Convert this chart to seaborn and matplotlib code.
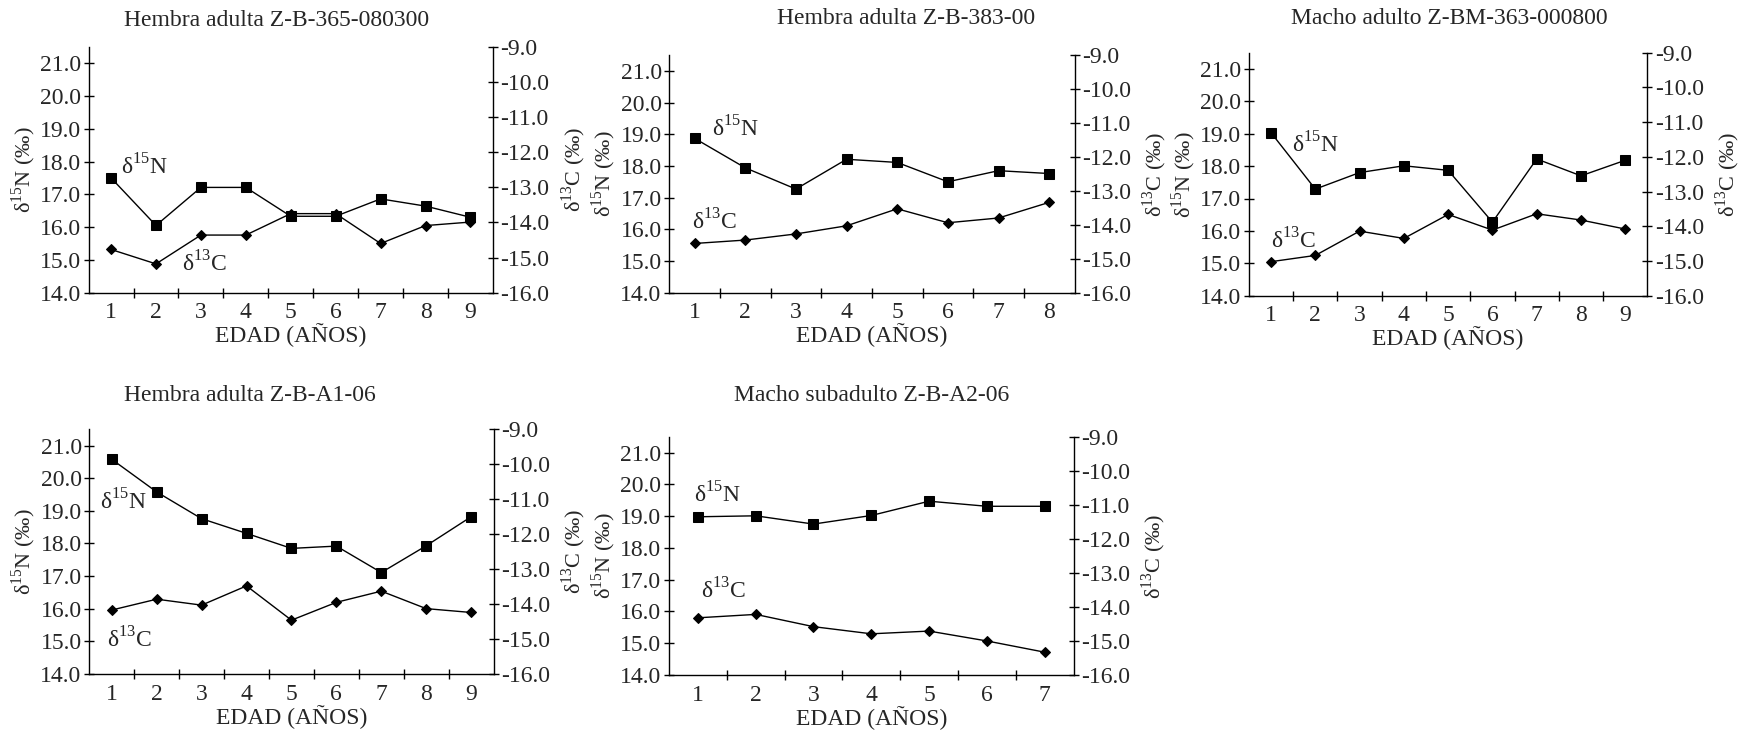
import matplotlib
matplotlib.use("Agg")
import matplotlib.pyplot as plt
from matplotlib.ticker import FixedLocator, FormatStrFormatter, NullFormatter
import seaborn as sns

sns.set_style("white")
plt.rcParams['font.family'] = ['Liberation Serif', 'DejaVu Serif']
plt.rcParams['mathtext.fontset'] = 'custom'
plt.rcParams['mathtext.rm'] = 'Liberation Serif'
plt.rcParams['axes.unicode_minus'] = False

# ---------------- data ----------------
titles = ["Hembra adulta Z-B-365-080300", "Hembra adulta Z-B-383-00",
          "Macho adulto Z-BM-363-000800", "Hembra adulta Z-B-A1-06",
          "Macho subadulto Z-B-A2-06"]

ages_1 = [1, 2, 3, 4, 5, 6, 7, 8, 9]
n15_1 = [17.50, 16.05, 17.21, 17.21, 16.33, 16.33, 16.86, 16.64, 16.30]
c13_1 = [-14.77, -15.18, -14.36, -14.36, -13.75, -13.75, -14.60, -14.09, -13.99]

ages_2 = [1, 2, 3, 4, 5, 6, 7, 8]
n15_2 = [18.87, 17.94, 17.27, 18.21, 18.11, 17.50, 17.85, 17.76]
c13_2 = [-14.55, -14.45, -14.27, -14.03, -13.53, -13.94, -13.80, -13.34]

ages_3 = [1, 2, 3, 4, 5, 6, 7, 8, 9]
n15_3 = [19.03, 17.29, 17.80, 18.01, 17.87, 16.27, 18.22, 17.70, 18.18]
c13_3 = [-15.02, -14.84, -14.14, -14.35, -13.66, -14.11, -13.64, -13.82, -14.08]

ages_4 = [1, 2, 3, 4, 5, 6, 7, 8, 9]
n15_4 = [20.58, 19.58, 18.76, 18.31, 17.85, 17.92, 17.11, 17.93, 18.82]
c13_4 = [-14.17, -13.86, -14.03, -13.48, -14.46, -13.95, -13.63, -14.13, -14.24]

ages_5 = [1, 2, 3, 4, 5, 6, 7]
n15_5 = [18.98, 19.01, 18.75, 19.02, 19.47, 19.31, 19.31]
c13_5 = [-14.32, -14.22, -14.58, -14.79, -14.71, -15.00, -15.33]

n_ticks = [14, 15, 16, 17, 18, 19, 20, 21]
c_ticks = [-16, -15, -14, -13, -12, -11, -10, -9]

# ---------------- layout (pixels) ----------------
W, H = 1758, 733
# left, top, right, bottom of plotting area
boxes = [(88.6, 46.7, 492.9, 292.7), (669.3, 55.0, 1074.5, 292.7),
         (1248.9, 52.7, 1647.4, 295.7), (89.3, 429.3, 493.6, 674.0),
         (669.0, 436.7, 1073.6, 675.0)]
title_pos = [(277, 20), (906, 18), (1449, 18), (250, 395), (872, 395)]
# annotation positions (x in category units, y in delta15N units)
n_lab = [(1.22, 17.85), (1.34, 19.16), (1.47, 18.65), (0.74, 19.28), (0.93, 19.66)]
c_lab = [(2.58, 14.87), (0.95, 16.23), (1.00, 15.69), (0.90, 15.04), (1.05, 16.65)]

series = [(ages_1, n15_1, c13_1), (ages_2, n15_2, c13_2), (ages_3, n15_3, c13_3),
          (ages_4, n15_4, c13_4), (ages_5, n15_5, c13_5)]

FS = 17
LFS = 16
fig = plt.figure(figsize=(W / 100, H / 100), dpi=100)
fig.patch.set_facecolor('white')

for i, (ages, n15, c13) in enumerate(series):
    l, t, r, b = boxes[i]
    ax = fig.add_axes([l / W, 1 - b / H, (r - l) / W, (b - t) / H])
    ax2 = ax.twinx()
    sns.lineplot(x=ages, y=n15, ax=ax, color='black', marker='s', markersize=6.5,
                 markeredgecolor='black', linewidth=1.0)
    sns.lineplot(x=ages, y=c13, ax=ax2, color='black', marker='D', markersize=5.5,
                 markeredgecolor='black', linewidth=1.0)
    n = len(ages)
    for a in (ax, ax2):
        a.set_xlim(0.5, n + 0.5)
        a.set_facecolor('none')
        a.grid(False)
        for s in a.spines.values():
            s.set_color('black')
            s.set_linewidth(1.0)
        a.spines['top'].set_visible(False)
    ax.spines['right'].set_visible(False)
    ax2.spines['left'].set_visible(False)
    ax2.spines['bottom'].set_visible(False)

    ax.set_ylim(14, 21.5)
    ax2.set_ylim(-16, -9)
    ax.yaxis.set_major_locator(FixedLocator(n_ticks))
    ax.yaxis.set_major_formatter(FormatStrFormatter('%.1f'))
    ax2.yaxis.set_major_locator(FixedLocator(c_ticks))
    ax2.yaxis.set_major_formatter(FormatStrFormatter('%.1f'))

    bounds = [k + 0.5 for k in range(1, n)]
    ax.xaxis.set_major_locator(FixedLocator(bounds))
    ax.xaxis.set_major_formatter(NullFormatter())
    ax.xaxis.set_minor_locator(FixedLocator(ages))
    ax.xaxis.set_minor_formatter(FormatStrFormatter('%d'))
    ax.tick_params(axis='x', which='major', direction='inout', length=7, width=1,
                   color='black', bottom=True)
    ax.tick_params(axis='x', which='minor', length=0, pad=7, labelsize=FS, bottom=True)
    ax.tick_params(axis='y', which='major', direction='inout', length=7, width=1,
                   color='black', pad=2, labelsize=FS, left=True)
    ax2.tick_params(axis='y', which='major', direction='inout', length=7, width=1,
                    color='black', pad=2, labelsize=FS, right=True)

    ax.set_xlabel('EDAD (AÑOS)', fontsize=FS, labelpad=0)
    ax.set_ylabel(r'δ$^\mathregular{15}$N (‰)', fontsize=LFS)
    ax2.set_ylabel(r'δ$^\mathregular{13}$C (‰)', fontsize=LFS)
    w = r - l
    ax.yaxis.set_label_coords(-51 / w, 0.5)
    ax2.yaxis.set_label_coords(1 + 66 / w, 0.5)

    ax.text(n_lab[i][0], n_lab[i][1], r'δ$^\mathregular{15}$N', fontsize=FS,
            ha='left', va='center')
    ax.text(c_lab[i][0], c_lab[i][1], r'δ$^\mathregular{13}$C', fontsize=FS,
            ha='left', va='center')

    tx, ty = title_pos[i]
    fig.text(tx / W, 1 - ty / H, titles[i], fontsize=FS, ha='center', va='center')

fig.savefig('out.png', dpi=100, facecolor='white')
